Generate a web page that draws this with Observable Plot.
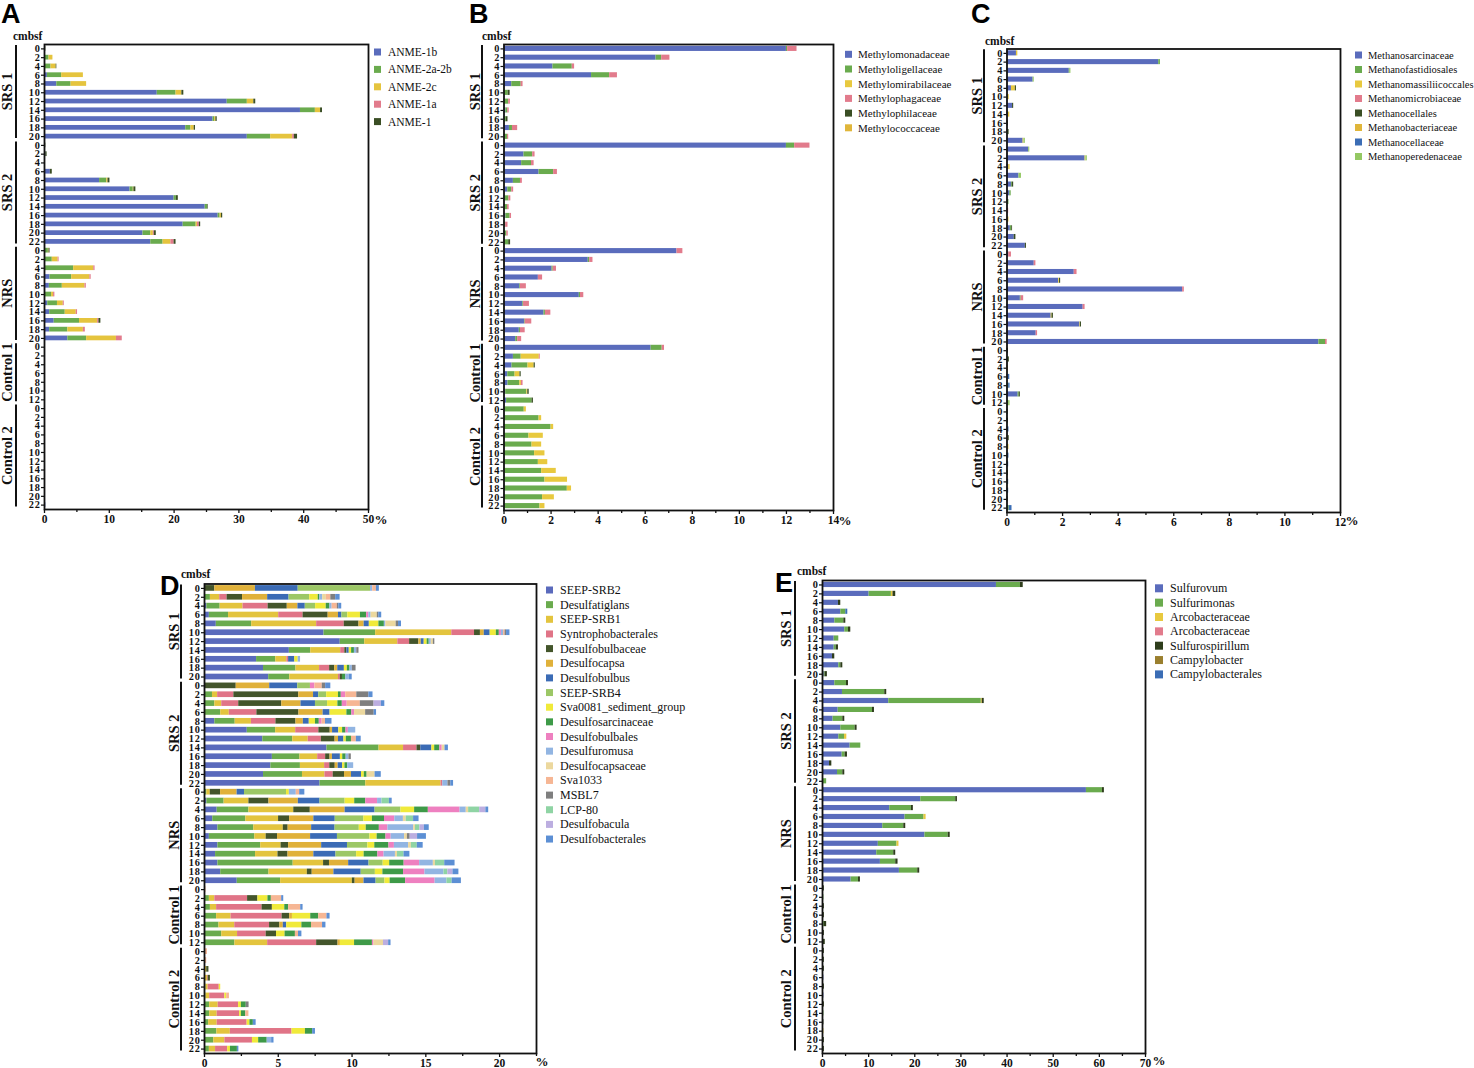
<!DOCTYPE html>
<html><head><meta charset="utf-8">
<script src="https://cdn.jsdelivr.net/npm/d3@7"></script>
<script src="https://cdn.jsdelivr.net/npm/@observablehq/plot@0.6"></script>
<style>
body{margin:0;background:#fff;}
#page{position:relative;width:1474px;height:1068px;overflow:hidden;background:#fff;}
#page svg{position:absolute;left:0;top:0;}
</style></head><body><div id="page"></div>
<script>
// ---------- shared row structure ----------
const groups = ["SRS 1","SRS 2","NRS","Control 1","Control 2"];
const depthsSRS1 = [0,2,4,6,8,10,12,14,16,18,20];
const depthsSRS2 = [0,2,4,6,8,10,12,14,16,18,20,22];
const depthsNRS = [0,2,4,6,8,10,12,14,16,18,20];
const depthsControl1 = [0,2,4,6,8,10,12];
const depthsControl2 = [0,2,4,6,8,10,12,14,16,18,20,22];
const groupDepths = [depthsSRS1, depthsSRS2, depthsNRS, depthsControl1, depthsControl2];

// ---------- Panel A: ANME ----------
const A_cats = ["ANME-1b","ANME-2a-2b","ANME-2c","ANME-1a","ANME-1"];
const A_colors = ["#5a6cbc","#6aab4e","#e5c43e","#e27b8c","#3a4e24"];
const A_values = [
// SRS 1
[0.1,0,0,0,0.1],[0,0.7,0.6,0,0],[0,1.0,0.8,0,0.1],[0.45,2.2,3.35,0,0],[1.9,2.2,2.4,0,0],
[17.4,2.9,0.9,0,0.3],[28.2,3.1,1.0,0,0.3],[39.5,2.3,0.8,0,0.3],[26.0,0.25,0.2,0,0.2],[21.8,0.8,0.5,0,0.2],[31.3,3.6,3.4,0.25,0.5],
// SRS 2
[0.1,0,0,0,0.1],[0.2,0,0,0,0.2],[0.1,0,0,0,0],[0.9,0,0,0,0.3],[8.5,1.1,0.2,0,0.3],[13.2,0.5,0.1,0,0.3],
[20.0,0.35,0,0,0.3],[24.8,0.35,0,0,0.1],[26.8,0.3,0.2,0,0.2],[21.4,2.0,0.2,0.3,0.2],[15.2,1.2,0.4,0.15,0.3],[16.4,1.9,1.2,0.5,0.3],
// NRS
[0,0.6,0.1,0,0.15],[0,1.2,0.9,0.15,0],[0.1,4.4,3.1,0.2,0],[0.85,3.35,2.8,0.2,0],[0.75,2.0,3.5,0.2,0],[0.1,1.0,0.3,0.2,0],
[0.5,1.5,0.9,0.15,0],[0.8,2.4,1.7,0.2,0],[1.5,3.9,2.8,0.2,0.3],[0.8,2.8,2.4,0.3,0],[3.6,2.9,4.6,0.9,0],
// Control 1
[0,0,0,0,0.15],[0,0,0,0,0.15],[0,0,0,0,0.05],[0,0,0,0,0.15],[0,0,0,0,0.15],[0,0,0,0,0.05],[0,0,0,0,0.05],
// Control 2
[0,0,0,0,0.15],[0,0,0,0,0.1],[0,0,0,0,0.15],[0,0,0,0,0.15],[0,0,0,0,0.15],[0,0,0,0,0.05],
[0,0,0,0,0.05],[0,0,0,0,0.15],[0,0,0,0,0.15],[0,0,0,0,0.05],[0,0,0,0,0.15],[0.2,0,0,0,0]
];
const A_ticks = [0,10,20,30,40,50];
const A_minor = [5,15,25,35,45];

// ---------- Panel B: methanotrophs ----------
const B_cats = ["Methylomonadaceae","Methyloligellaceae","Methylomirabilaceae","Methylophagaceae","Methylophilaceae","Methylococcaceae"];
const B_colors = ["#5a6cbc","#6aab4e","#e8c93f","#e27b8c","#3a4e24","#e0b63a"];
const B_values = [
// SRS 1
[12.0,0.05,0,0.4,0,0],[6.46,0.24,0,0.35,0,0],[2.08,0.82,0,0.1,0,0],[3.72,0.77,0,0.33,0,0],[0.33,0.4,0,0.08,0,0],
[0,0.18,0,0,0.08,0],[0,0.2,0,0.07,0,0],[0.08,0.08,0,0.06,0,0],[0,0.1,0,0,0.07,0],[0.23,0.13,0,0.22,0,0],[0,0.15,0,0.05,0,0],
// SRS 2
[12.0,0.35,0,0.65,0,0],[0.85,0.37,0,0.1,0,0],[0.75,0.42,0,0.11,0,0],[1.49,0.62,0,0.16,0,0],[0.4,0.3,0,0.08,0,0],[0.16,0.17,0,0.08,0,0],
[0.03,0.18,0,0.08,0,0],[0,0.15,0,0.07,0,0],[0.08,0.18,0,0.06,0,0],[0,0.07,0,0.1,0,0],[0,0.12,0,0.06,0,0],[0,0.2,0,0,0.08,0],
// NRS
[7.35,0,0,0.25,0,0],[3.58,0.06,0,0.14,0,0],[2.04,0.05,0,0.14,0,0],[1.46,0,0,0.18,0,0],[0.67,0.03,0,0.25,0,0],[3.2,0.05,0,0.14,0,0],
[0.8,0.03,0,0.25,0,0],[1.7,0.06,0,0.23,0,0],[0.87,0.03,0,0.28,0,0],[0.65,0.05,0,0.2,0,0],[0.5,0.08,0,0.17,0,0],
// Control 1
[6.25,0.47,0,0.1,0,0],[0.4,0.33,0.77,0.04,0,0],[0.34,0.68,0.26,0,0.05,0],[0.16,0.31,0.21,0,0.05,0],[0.17,0.5,0.07,0.07,0,0],
[0.07,0.9,0.04,0,0.06,0],[0.11,1.08,0,0,0.06,0],
// Control 2
[0,0.86,0.09,0,0,0],[0,1.49,0.11,0,0,0],[0,2.0,0.11,0,0,0],[0,1.06,0.61,0,0,0],[0,1.19,0.41,0,0,0],[0,1.3,0.44,0,0,0],
[0,1.46,0.4,0,0,0],[0,1.6,0.62,0,0,0],[0,1.74,0.96,0,0,0],[0,2.69,0.18,0,0,0],[0,1.64,0.5,0,0,0],[0,1.53,0.21,0,0,0]
];
const B_ticks = [0,2,4,6,8,10,12,14];
const B_minor = [1,3,5,7,9,11,13];

// ---------- Panel C: methanogens ----------
const C_cats = ["Methanosarcinaceae","Methanofastidiosales","Methanomassiliicoccales","Methanomicrobiaceae","Methanocellales","Methanobacteriaceae","Methanocellaceae","Methanoperedenaceae"];
const C_colors = ["#5a6cbc","#6aab4e","#e8c93f","#e27b8c","#3a4e24","#e0b63a","#3b6db5","#94c863"];
const C_values = [
// SRS 1
[0.34,0,0.05,0,0,0,0,0],[5.46,0.06,0,0,0,0,0,0],[2.24,0.03,0,0,0,0,0,0.03],[0.94,0,0,0,0,0,0,0.04],[0.16,0,0.14,0,0.04,0,0,0],
[0,0,0.08,0,0,0,0,0],[0.2,0,0,0,0.04,0,0,0],[0.05,0,0.05,0,0,0,0,0],[0,0,0,0,0.05,0,0,0],[0,0.06,0,0,0.02,0,0,0],[0.58,0,0.03,0,0,0,0,0.05],
// SRS 2
[0.78,0,0,0,0,0,0,0.04],[2.81,0,0.03,0,0,0,0,0.05],[0.06,0,0.05,0,0,0,0,0],[0.43,0,0,0,0,0,0,0.09],[0.16,0.03,0,0,0.05,0,0,0],[0.1,0.05,0,0,0,0,0,0],
[0,0.07,0,0,0,0,0,0],[0,0,0,0.06,0,0,0,0],[0,0,0.07,0,0,0,0,0],[0.12,0.05,0,0,0.03,0,0,0],[0.26,0,0,0,0.06,0,0,0],[0.66,0,0,0,0.04,0,0,0],
// NRS
[0.06,0,0,0.1,0,0,0,0],[0.98,0,0,0.06,0,0,0,0],[2.42,0,0,0.1,0,0,0,0],[1.86,0,0.03,0,0.04,0,0,0],[6.32,0,0,0.06,0,0,0,0],[0.48,0.03,0,0.09,0,0,0,0],
[2.74,0,0,0.07,0,0,0,0],[1.59,0,0.03,0,0.05,0,0,0],[2.62,0,0.02,0,0.04,0,0,0],[1.05,0,0,0.05,0,0,0,0],[11.22,0.24,0,0.06,0,0,0,0],
// Control 1
[0,0,0,0,0.05,0,0,0],[0,0.06,0,0,0.03,0,0,0],[0,0,0.04,0,0,0,0,0],[0.04,0,0,0,0,0,0.06,0],[0,0.06,0,0,0,0,0.05,0],
[0.4,0.04,0,0,0.04,0,0,0],[0,0.06,0,0,0,0,0,0.05],
// Control 2
[0,0,0,0,0.04,0,0,0],[0,0,0,0,0.05,0,0,0],[0,0,0,0,0,0,0.07,0],[0,0,0.04,0,0.04,0,0,0],[0,0,0.07,0,0,0,0,0],[0,0,0,0,0,0,0.07,0],
[0,0,0,0,0,0,0.06,0],[0,0,0,0,0.05,0,0,0],[0,0,0,0,0,0,0.06,0],[0,0,0,0,0,0,0.06,0],[0,0,0,0,0.04,0,0,0],[0,0.08,0,0,0,0,0.1,0]
];
const C_ticks = [0,2,4,6,8,10,12];
const C_minor = [1,3,5,7,9,11];

// ---------- Panel D: sulfate reducers ----------
const D_cats = ["SEEP-SRB2","Desulfatiglans","SEEP-SRB1","Syntrophobacterales","Desulfobulbaceae","Desulfocapsa","Desulfobulbus","SEEP-SRB4","Sva0081_sediment_group","Desulfosarcinaceae","Desulfobulbales","Desulfuromusa","Desulfocapsaceae","Sva1033","MSBL7","LCP-80","Desulfobacula","Desulfobacterales"];
const D_colors = ["#5a6abc","#6aab4e","#e3c43e","#e07487","#43552b","#e0b13a","#3b6bb5","#9cc766","#f0ea3a","#3e9a48","#ee80c0","#92b5e2","#ecd89e","#f6b694","#7f7f7f","#8fd4a4","#bcaee0","#5c8fd4"];
const D_values = [
// SRS 1
[0,0,0,0,0.7,2.75,2.9,4.9,0,0,0,0.15,0,0.25,0,0,0,0.2],
[0,0.4,0.63,0.5,1.05,1.7,1.45,1.4,0.58,0.1,0,0.2,0.25,0.3,0.33,0,0,0.3],
[0.16,0.9,1.55,1.7,1.3,0.72,0.5,0.7,0.72,0.25,0,0.15,0,0.35,0.1,0,0,0.2],
[0.33,1.3,3.4,1.65,1.7,0.7,0.23,0.4,0.86,0.42,0.15,0.15,0.42,0,0.1,0,0,0.2],
[0.8,2.4,4.4,1.87,1.0,0.35,0.35,0,0.65,0.37,0,0.1,0.7,0,0.16,0,0,0.2],
[8.1,3.5,5.16,1.54,0.4,0.26,0.4,0,0.42,0.2,0.14,0.15,0,0.1,0.1,0,0,0.23],
[9.2,1.66,2.24,0.8,0.63,0.16,0.2,0,0.2,0.14,0,0.14,0.14,0,0.1,0,0,0],
[5.75,1.45,2.03,0.28,0.14,0,0.16,0,0.16,0.19,0,0.16,0,0,0.15,0,0,0],
[3.53,1.3,0.75,0.12,0,0,0.42,0,0.23,0,0,0.16,0,0,0,0,0,0],
[4.0,2.2,1.6,0.68,0.35,0.2,0.45,0,0.2,0.18,0,0.16,0,0,0.25,0,0,0],
[4.35,1.43,3.3,0.12,0.15,0,0,0,0,0.23,0,0.23,0,0,0,0,0,0.2],
// SRS 2
[0,0,0,0.05,2.1,2.27,1.9,0.86,0,0,0.3,0,0,0.5,0.23,0,0,0.35],
[0,0.54,0.35,1.1,4.4,1.0,0.35,0.54,0.8,0.19,0.3,0,0,0.75,0.82,0,0,0.28],
[0,0.7,0.47,1.15,2.92,1.3,0.98,0.82,0.7,0.3,0.33,0,0,0.89,0.93,0,0.5,0.23],
[0,1.1,0.58,1.87,2.85,1.64,0.47,0,1.14,0.33,0.19,0,0.75,0,0.58,0,0,0.16],
[0.7,1.38,1.1,1.66,1.36,0.5,0.4,0,0.42,0.26,0.19,0,0,0.23,0,0,0,0.44],
[2.9,1.92,1.36,1.57,0.77,0.16,0.42,0,0.26,0.23,0.16,0.5,0,0,0,0,0,0],
[3.95,2.03,1.05,0.89,0.93,0.23,0.37,0,0.16,0.35,0,0,0,0.33,0,0,0,0.33],
[8.3,3.53,1.66,0.91,0.26,0,0.75,0,0.19,0.35,0.16,0,0.19,0,0,0,0,0.23],
[4.6,1.87,1.2,0.54,0.3,0.16,0.54,0,0.16,0.23,0,0.19,0,0,0.16,0,0,0],
[4.5,2.0,1.64,0.35,0.37,0.2,0.3,0,0.16,0.19,0,0.4,0,0,0,0,0,0],
[4.0,2.64,1.52,0.56,0.77,0.47,0.68,0,0.19,0.19,0,0,0.54,0,0,0,0,0.42],
[7.83,3.1,5.1,0.12,0,0,0,0,0,0,0,0.35,0,0,0.19,0,0,0.19],
// NRS
[0,0.16,0.23,0,0.7,1.12,0.5,2.85,0.19,0,0,0.47,0,0.23,0,0,0,0.35],
[0.16,1.17,1.68,0,1.36,1.99,1.47,1.7,0.65,0.75,0.8,0.3,0,0,0,0.5,0,0.19],
[0.86,2.15,3.04,0,1.12,2.36,2.03,1.75,0.93,0.93,2.15,0.42,0.16,0,0,0.75,0.42,0.19],
[0.56,2.24,2.22,0,0.75,1.64,1.45,1.94,0.58,0.82,0.7,0.58,0.19,0,0,0.5,0,0.37],
[0.91,2.43,2.0,0,0.33,1.59,1.59,1.64,0.47,0.89,0.58,1.75,0.12,0,0,0.3,0.3,0.33],
[0.33,3.08,0.77,0,0.77,2.24,1.82,2.2,0.49,0.6,0.35,0.91,0.19,0,0.19,0,0.5,0.6],
[0.91,2.9,1.38,0,0.51,2.24,1.75,1.38,0.47,0.96,0.37,0.96,0.19,0,0,0.4,0,0.4],
[0.75,2.71,1.52,0,0.68,1.75,1.5,1.4,0.51,0.93,0.42,0.77,0.14,0,0,0.44,0,0.4],
[0.91,5.1,2.06,0,0.4,1.3,1.38,0.96,0.44,0.98,1.05,0.93,0.14,0,0,0.63,0,0.7],
[1.1,3.27,2.6,0,0.33,1.47,1.85,0.96,0.51,1.4,1.45,1.29,0,0,0,0.26,0.35,0.4],
[2.22,2.94,4.86,0,0.19,0.6,0.82,0.6,0.35,1.05,2.0,0.8,0,0,0,0.35,0,0.63],
// Control 1
[0,0,0,0,0,0,0,0,0,0,0,0,0,0.1,0,0,0,0],
[0,0.33,0.37,2.22,0.7,0,0,0,0.68,0.23,0,0,0,0.7,0,0,0,0.14],
[0,0.4,0.42,3.08,0.7,0,0,0,0.84,0.26,0,0,0,0.82,0,0,0,0.16],
[0,0.82,0.98,3.46,0.51,0.19,0,0,1.24,0.54,0,0,0,0.56,0,0,0,0.21],
[0,0.98,1.07,2.36,0.7,0.23,0.23,0,1.03,0.65,0,0,0,0.75,0,0,0,0.23],
[0,1.17,1.07,1.94,0.7,0,0,0,0.58,0.7,0,0,0,0.21,0,0,0,0.23],
[0,2.06,2.22,3.32,1.45,0.16,0,0,0.96,1.21,0.1,0,0.65,0,0,0,0.35,0.16],
// Control 2
[0,0,0,0,0,0,0,0,0,0,0,0,0,0.2,0,0,0,0],
[0,0,0,0,0,0,0,0,0,0,0,0,0,0.15,0,0,0,0],
[0,0,0.15,0,0.15,0,0,0,0,0,0,0,0,0,0,0,0,0],
[0,0,0.2,0.05,0.15,0,0,0,0,0,0,0,0,0,0,0,0,0],
[0,0.1,0.15,0.75,0,0,0,0,0.1,0,0,0,0,0,0,0,0,0],
[0,0.1,0.25,1.03,0,0,0,0,0.12,0,0,0,0,0.19,0,0,0,0],
[0,0.35,0.58,1.38,0,0,0,0,0.19,0.33,0,0,0,0,0.19,0,0,0],
[0,0.35,0.51,1.52,0,0,0,0,0.12,0.3,0,0,0,0.21,0,0,0,0],
[0,0.28,0.58,2.03,0,0,0,0,0.19,0.23,0,0,0,0,0,0,0,0.19],
[0,0.84,0.91,4.18,0,0,0,0,0.91,0.49,0,0,0,0,0,0,0,0.19],
[0,0.63,0.75,1.87,0,0,0,0,0.42,0.58,0,0.3,0,0,0,0,0,0.16],
[0,0.33,0.42,0.82,0,0,0,0,0.19,0.47,0,0,0,0,0,0,0,0.1]
];
const D_ticks = [0,5,10,15,20];
const D_minor = [2.5,7.5,12.5,17.5,22.5];

// ---------- Panel E: sulfur oxidizers ----------
const E_cats = ["Sulfurovum","Sulfurimonas","Arcobacteraceae","Arcobacteraceae","Sulfurospirillum","Campylobacter","Campylobacterales"];
const E_colors = ["#5a6cbc","#6aab4e","#e8c93f","#e27b8c","#2e3d1c","#9a7f2e","#3b6db5"];
const E_values = [
// SRS 1
[37.7,5.2,0,0,0.6,0,0],[10.1,4.83,0.36,0,0.58,0,0],[3.46,0,0,0,0.5,0,0],[3.97,1.08,0,0,0,0,0.43],[2.67,1.95,0,0,0.43,0,0],
[4.83,0.8,0,0,0.5,0,0],[2.53,1.0,0,0,0,0,0],[2.53,0.43,0,0,0.5,0,0],[2.16,0,0,0,0.5,0,0],[3.54,0.43,0,0,0.43,0,0],[0.36,0.2,0,0,0.5,0,0],
// SRS 2
[2.67,2.53,0,0,0.43,0,0],[4.33,9.16,0,0,0.43,0,0],[14.36,20.06,0.2,0,0.43,0,0],[3.4,7.43,0,0,0.43,0,0],[2.3,2.1,0,0,0.43,0,0],[3.97,3.1,0,0,0.43,0,0],
[3.54,1.23,0.5,0,0,0,0],[5.99,2.31,0,0,0,0,0],[4.26,0.65,0,0,0.5,0,0],[1.52,0,0,0,0.5,0,0],[3.25,1.15,0,0,0.43,0,0],[0.1,0.8,0,0,0,0,0],
// NRS
[57.2,3.46,0,0,0.43,0,0],[21.3,7.58,0,0,0.36,0,0],[14.57,4.69,0,0,0.43,0,0],[17.9,4.1,0.45,0,0,0,0],[13.06,4.55,0,0,0.43,0,0],[22.2,5.05,0,0,0.43,0,0],
[12.1,4.04,0.43,0,0,0,0],[11.76,3.68,0,0,0.43,0,0],[12.55,3.32,0,0,0.5,0,0],[16.67,3.97,0,0,0.43,0,0],[6.2,1.59,0,0,0.43,0,0],
// Control 1
[0,0,0,0,0.4,0,0],[0,0.3,0,0,0,0,0],[0,0,0,0,0.4,0,0],[0,0,0,0,0.4,0,0],[0,0.4,0,0,0.5,0,0],[0,0,0,0,0.4,0,0],[0,0.2,0,0,0.4,0,0],
// Control 2
[0,0,0,0,0.4,0,0],[0,0,0,0,0.4,0,0],[0,0,0,0,0.4,0,0],[0.3,0,0,0,0,0,0],[0,0,0,0,0.4,0,0],[0.3,0,0,0,0,0,0],
[0,0,0,0,0.4,0,0],[0,0.3,0,0,0,0,0],[0,0,0,0,0.3,0,0],[0,0,0.3,0,0,0,0],[0,0,0,0,0.4,0,0],[0,0,0,0,0.4,0,0]
];
const E_ticks = [0,10,20,30,40,50,60,70];
const E_minor = [5,15,25,35,45,55,65];

// ---------- layout (positions only) ----------
const rowKeys = groups.flatMap((g, i) => groupDepths[i].map(d => g + "|" + d));
const W = 1474, H = 1068;
const SERIF = "'Liberation Serif','Times New Roman',serif";

const panels = [
  {letter:"A", cats:A_cats, colors:A_colors, vals:A_values, xmax:50, ticks:A_ticks, minor:A_minor,
   frame:[44,44,368,509], pad:0.46, brX:16, glX:7, cmbsf:[13,39.5], pct:[381,519], let:[1,23],
   legend:{x:374, y0:52, step:17.4, size:7, tx:388, fs:11.5}},
  {letter:"B", cats:B_cats, colors:B_colors, vals:B_values, xmax:14, ticks:B_ticks, minor:B_minor,
   frame:[503.5,44,833,510], pad:0.42, brX:482, glX:475, cmbsf:[482,40], pct:[845,520], let:[469,23],
   legend:{x:845, y0:54.3, step:14.7, size:7, tx:858, fs:11}},
  {letter:"C", cats:C_cats, colors:C_colors, vals:C_values, xmax:12, ticks:C_ticks, minor:C_minor,
   frame:[1006.5,48.5,1340,512], pad:0.42, brX:984, glX:977, cmbsf:[985,45], pct:[1352,520], let:[971,23],
   legend:{x:1355, y0:55, step:14.5, size:7, tx:1368, fs:10.5}},
  {letter:"D", cats:D_cats, colors:D_colors, vals:D_values, xmax:22.5, ticks:D_ticks, minor:D_minor,
   frame:[204,583.5,536,1053], pad:0.36, brX:181, glX:174, cmbsf:[181,578], pct:[542,1061], let:[160,595],
   legend:{x:546, y0:590, step:14.65, size:7, tx:560, fs:12}},
  {letter:"E", cats:E_cats, colors:E_colors, vals:E_values, xmax:70, ticks:E_ticks, minor:E_minor,
   frame:[822,580,1145,1053], pad:0.42, brX:795, glX:786, cmbsf:[797,575], pct:[1159,1060], let:[775,592],
   legend:{x:1155, y0:588.3, step:14.35, size:8, tx:1170, fs:12}}
];

const page = document.getElementById("page");

for (const p of panels) {
  const data = [];
  rowKeys.forEach((k, i) => p.vals[i].forEach((v, c) => data.push({key: k, v, c})));
  const [fl, ft, fr, fb] = p.frame;
  const chart = Plot.plot({
    width: W, height: H,
    marginLeft: fl, marginRight: W - fr, marginTop: ft, marginBottom: H - fb,
    style: {background: "transparent", fontFamily: SERIF, overflow: "visible", color: "#111"},
    x: {domain: [0, p.xmax], label: null},
    y: {domain: rowKeys, paddingInner: p.pad, paddingOuter: p.pad / 2, label: null},
    color: {type: "ordinal", domain: d3.range(p.cats.length), range: p.colors},
    marks: [
      Plot.barX(data, Plot.stackX({x: "v", y: "key", fill: "c"})),
      Plot.axisX({ticks: p.minor, tickSize: 3, text: null, label: null, strokeWidth: 1.3, stroke: "#111"}),
      Plot.axisX({ticks: p.ticks, tickSize: 4, tickPadding: 1, fontSize: 11.5, fontWeight: "bold", label: null,
                  tickFormat: d => String(d), strokeWidth: 1.3, stroke: "#111", fill: "#111"}),
      Plot.axisY({tickSize: 3, tickPadding: 1, fontSize: 10.3, fontWeight: "bold", label: null,
                  tickFormat: k => k.split("|")[1], strokeWidth: 1.2, stroke: "#111", fill: "#111"}),
      Plot.frame({stroke: "#111", strokeWidth: 1.8})
    ]
  });
  page.appendChild(chart);

  const svg = d3.select(chart);
  // widen the depth labels slightly like the reference's heavy serif digits
  svg.selectAll("g[aria-label='y-axis tick label'] text").attr("letter-spacing", "0.7px");
  const ys = chart.scale("y");
  const bw = ys.bandwidth;
  const center = k => ys.apply(k) + bw / 2;

  // group brackets and labels
  groups.forEach((g, i) => {
    const ds = groupDepths[i];
    const y1 = center(g + "|" + ds[0]) - 3.5;
    const y2 = center(g + "|" + ds[ds.length - 1]) + 2;
    svg.append("line").attr("x1", p.brX).attr("x2", p.brX).attr("y1", y1).attr("y2", y2)
      .attr("stroke", "#111").attr("stroke-width", 2);
    const ym = (y1 + y2) / 2;
    svg.append("text").text(g)
      .attr("transform", `translate(${p.glX},${ym}) rotate(-90)`)
      .attr("text-anchor", "middle").attr("dominant-baseline", "central")
      .attr("font-family", SERIF).attr("font-weight", "bold").attr("font-size", 14.5).attr("fill", "#111");
  });

  // cmbsf label
  svg.append("text").text("cmbsf").attr("x", p.cmbsf[0]).attr("y", p.cmbsf[1])
    .attr("text-anchor", "start")
    .attr("font-family", SERIF).attr("font-weight", "bold").attr("font-size", 11.5).attr("fill", "#111");

  // percent sign
  svg.append("text").text("%").attr("x", p.pct[0]).attr("y", p.pct[1])
    .attr("text-anchor", "middle").attr("dominant-baseline", "central")
    .attr("font-family", SERIF).attr("font-weight", "bold").attr("font-size", 13).attr("fill", "#111");

  // panel letter
  svg.append("text").text(p.letter).attr("x", p.let[0]).attr("y", p.let[1])
    .attr("text-anchor", "start")
    .attr("font-family", "'Liberation Sans',Arial,sans-serif").attr("font-weight", "bold")
    .attr("font-size", 27).attr("fill", "#000");

  // legend
  const L = p.legend;
  p.cats.forEach((name, i) => {
    const yc = L.y0 + i * L.step;
    svg.append("rect").attr("x", L.x).attr("y", yc - L.size / 2).attr("width", L.size).attr("height", L.size)
      .attr("fill", p.colors[i]);
    svg.append("text").text(name).attr("x", L.tx).attr("y", yc)
      .attr("text-anchor", "start").attr("dominant-baseline", "central").attr("font-family", SERIF)
      .attr("font-size", L.fs).attr("fill", "#111");
  });
}
</script>
</body></html>
